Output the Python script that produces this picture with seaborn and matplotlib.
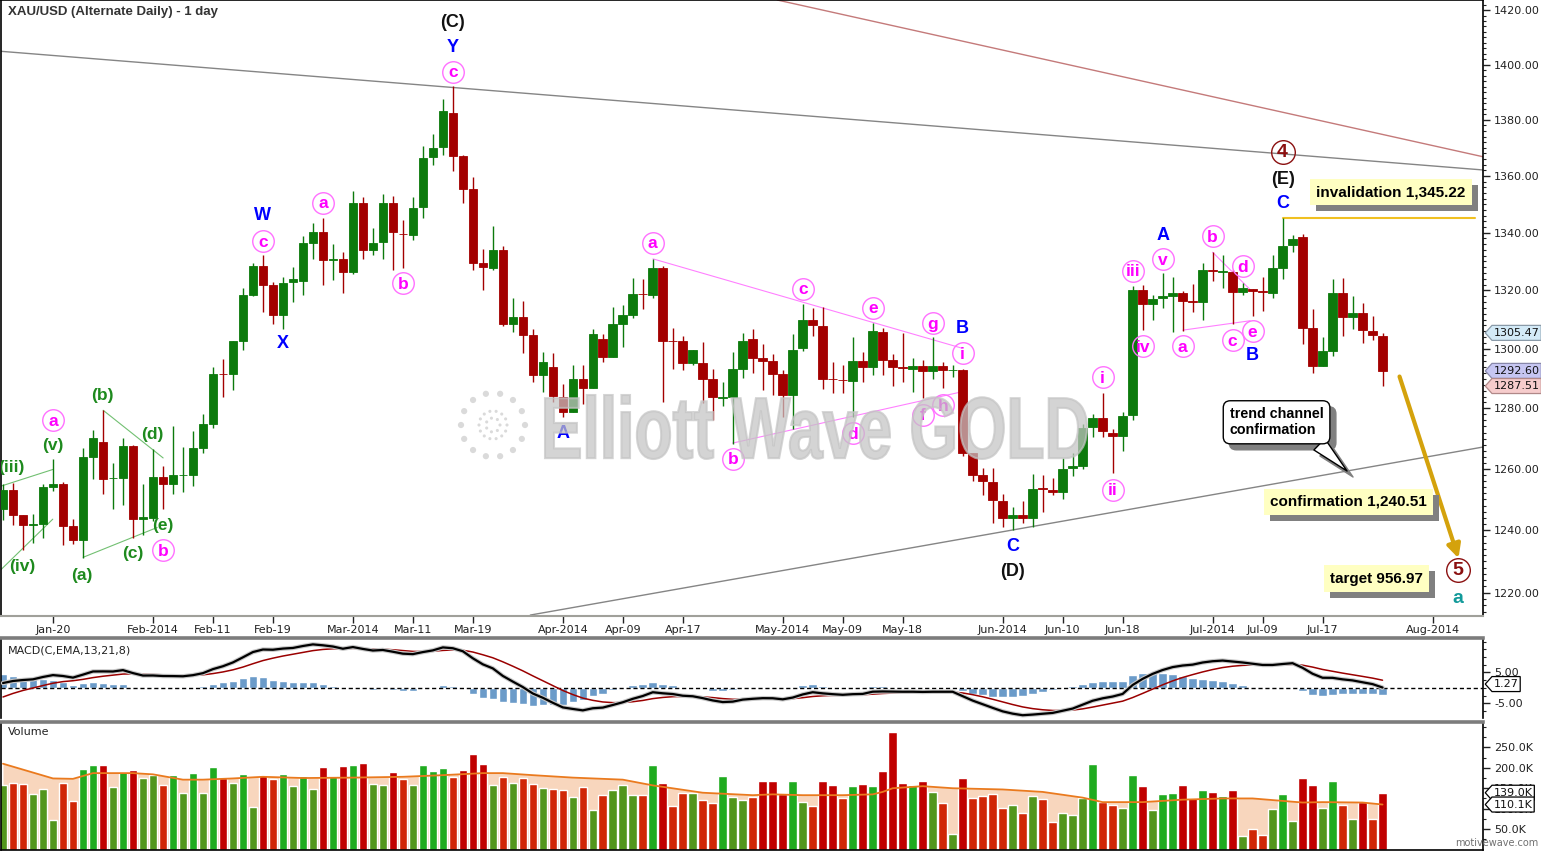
import numpy as np
import pandas as pd
import matplotlib
matplotlib.use("Agg")
import matplotlib.pyplot as plt
import matplotlib.ticker as mticker
import seaborn as sns
from matplotlib.path import Path
from matplotlib.patches import PathPatch
from matplotlib.textpath import TextPath
from matplotlib.font_manager import FontProperties
from matplotlib.transforms import Affine2D, IdentityTransform, ScaledTranslation, blended_transform_factory

W, H = 1541, 851

# daily XAU/USD bars, first bar = 13 Jan 2014
opens = [1247.0, 1253.0, 1245.1, 1241.8, 1242.1, 1254.2, 1255.1, 1241.3, 1236.9, 1264.0,
         1268.9, 1256.9, 1257.1, 1267.7, 1243.8, 1244.0, 1257.4, 1254.9, 1257.9, 1258.1,
         1266.9, 1274.8, 1291.6, 1291.4, 1302.8, 1318.3, 1328.6, 1321.7, 1311.4, 1322.9,
         1323.2, 1336.4, 1340.4, 1330.5, 1330.9, 1326.3, 1350.4, 1334.1, 1336.7, 1350.4,
         1339.7, 1339.3, 1348.9, 1366.6, 1370.1, 1382.4, 1366.9, 1355.4, 1329.3, 1327.6,
         1334.1, 1308.6, 1310.8, 1304.6, 1291.3, 1293.9, 1284.0, 1278.7, 1289.8, 1286.8,
         1303.3, 1297.3, 1308.6, 1311.6, 1318.8, 1318.4, 1327.6, 1302.8, 1302.7, 1295.3,
         1295.3, 1289.8, 1283.5, 1283.7, 1293.2, 1303.3, 1296.9, 1296.0, 1291.5, 1284.5,
         1300.3, 1309.9, 1307.8, 1289.9, 1289.6, 1289.3, 1295.8, 1293.8, 1305.8, 1296.2,
         1293.8, 1293.3, 1294.1, 1292.4, 1294.1, 1292.8, 1292.9, 1265.1, 1257.9, 1255.6,
         1249.4, 1244.0, 1244.8, 1244.0, 1253.6, 1253.0, 1252.4, 1260.3, 1261.1, 1273.7,
         1276.9, 1272.0, 1270.7, 1277.8, 1320.0, 1315.3, 1317.3, 1318.1, 1319.0, 1316.3,
         1315.9, 1326.9, 1326.4, 1326.4, 1319.6, 1320.6, 1319.7, 1319.1, 1327.6, 1335.6,
         1338.4, 1307.2, 1294.4, 1299.2, 1319.0, 1310.8, 1312.2, 1306.1, 1304.4]
highs = [1254.9, 1255.4, 1245.1, 1245.3, 1254.9, 1263.1, 1255.7, 1243.6, 1266.9, 1272.9,
         1279.5, 1262.0, 1270.2, 1268.0, 1255.1, 1266.4, 1260.9, 1274.3, 1267.1, 1272.4,
         1278.0, 1293.8, 1296.6, 1302.8, 1320.9, 1329.5, 1332.1, 1322.9, 1324.7, 1328.2,
         1338.7, 1343.4, 1345.1, 1336.2, 1333.3, 1354.7, 1352.5, 1341.6, 1353.7, 1353.0,
         1344.6, 1352.5, 1370.7, 1375.0, 1387.7, 1392.1, 1367.5, 1359.5, 1334.4, 1342.2,
         1335.3, 1317.3, 1316.4, 1306.9, 1299.0, 1298.6, 1288.1, 1294.7, 1294.5, 1306.9,
         1305.0, 1314.2, 1315.0, 1324.4, 1323.8, 1330.9, 1328.4, 1307.2, 1304.5, 1299.5,
         1302.3, 1293.2, 1289.0, 1298.9, 1305.3, 1306.7, 1301.7, 1298.3, 1293.0, 1305.0,
         1315.5, 1314.0, 1314.2, 1295.6, 1294.7, 1304.0, 1299.0, 1309.0, 1307.1, 1298.3,
         1305.5, 1296.9, 1296.4, 1304.0, 1295.5, 1294.7, 1293.3, 1265.1, 1260.3, 1260.3,
         1251.8, 1247.5, 1249.4, 1258.4, 1258.1, 1257.1, 1263.6, 1265.3, 1274.8, 1278.0,
         1285.1, 1273.1, 1278.7, 1321.5, 1321.7, 1318.3, 1325.9, 1324.7, 1319.8, 1322.1,
         1329.3, 1333.3, 1332.2, 1326.9, 1322.6, 1320.6, 1324.6, 1332.4, 1345.2, 1339.1,
         1339.5, 1313.6, 1304.0, 1324.0, 1324.4, 1318.1, 1315.6, 1311.1, 1305.5]
lows = [1243.4, 1241.6, 1233.7, 1235.8, 1237.4, 1252.7, 1235.3, 1235.5, 1231.2, 1256.8,
        1251.8, 1247.0, 1248.3, 1237.6, 1238.5, 1242.9, 1247.0, 1251.8, 1252.5, 1254.3,
        1265.1, 1273.5, 1284.0, 1286.2, 1299.8, 1318.0, 1312.5, 1308.6, 1306.9, 1315.9,
        1318.3, 1330.7, 1321.7, 1323.6, 1319.2, 1325.5, 1330.7, 1332.2, 1330.7, 1327.2,
        1327.6, 1337.4, 1345.1, 1363.9, 1367.5, 1361.6, 1350.4, 1327.2, 1320.1, 1326.9,
        1307.7, 1305.6, 1298.6, 1289.0, 1285.4, 1282.3, 1277.1, 1278.7, 1281.4, 1286.8,
        1295.6, 1297.3, 1300.6, 1310.6, 1313.6, 1317.5, 1282.0, 1293.3, 1293.0, 1294.7,
        1281.7, 1276.2, 1280.9, 1268.3, 1290.1, 1291.9, 1286.2, 1284.5, 1277.3, 1273.2,
        1299.4, 1304.5, 1286.6, 1285.1, 1285.1, 1277.1, 1289.0, 1291.3, 1291.1, 1287.6,
        1289.0, 1285.6, 1283.4, 1289.9, 1286.8, 1290.7, 1264.2, 1256.0, 1251.4, 1242.3,
        1240.9, 1240.1, 1242.5, 1240.9, 1245.8, 1251.4, 1250.0, 1257.6, 1259.8, 1270.5,
        1270.4, 1258.7, 1266.0, 1276.0, 1306.3, 1309.7, 1313.8, 1305.8, 1306.0, 1312.7,
        1310.0, 1323.2, 1320.7, 1308.4, 1318.4, 1311.2, 1313.0, 1317.3, 1324.1, 1333.3,
        1301.8, 1291.9, 1294.4, 1297.7, 1304.5, 1306.9, 1302.0, 1303.1, 1287.5]
closes = [1253.2, 1245.1, 1241.8, 1242.0, 1254.1, 1255.1, 1241.5, 1236.9, 1264.0, 1270.2,
          1256.8, 1257.1, 1267.5, 1243.8, 1244.2, 1257.4, 1254.9, 1257.9, 1258.0, 1266.9,
          1274.8, 1291.5, 1291.4, 1302.8, 1318.3, 1328.6, 1321.8, 1311.4, 1322.6, 1324.0,
          1336.4, 1340.4, 1330.5, 1330.7, 1326.3, 1350.4, 1334.1, 1336.4, 1350.4, 1340.1,
          1339.5, 1348.7, 1366.3, 1369.9, 1383.2, 1366.9, 1355.4, 1329.3, 1328.2, 1334.1,
          1308.6, 1310.8, 1304.8, 1291.3, 1295.6, 1284.3, 1278.7, 1289.8, 1286.8, 1305.0,
          1297.3, 1308.6, 1311.6, 1318.7, 1318.6, 1327.6, 1302.7, 1302.6, 1295.3, 1299.5,
          1289.8, 1283.7, 1283.8, 1293.2, 1302.6, 1296.9, 1296.0, 1291.6, 1284.5, 1299.7,
          1309.9, 1308.0, 1289.9, 1289.8, 1289.4, 1295.8, 1293.8, 1306.0, 1296.4, 1293.8,
          1293.6, 1294.1, 1292.4, 1294.1, 1292.8, 1292.9, 1265.1, 1258.1, 1256.0, 1249.8,
          1244.0, 1244.8, 1244.0, 1253.5, 1253.4, 1252.4, 1260.0, 1260.9, 1273.5, 1276.9,
          1272.4, 1270.7, 1277.6, 1320.0, 1315.3, 1317.2, 1318.1, 1319.0, 1316.4, 1316.1,
          1326.9, 1326.7, 1326.6, 1319.6, 1320.7, 1319.8, 1319.6, 1327.6, 1335.5, 1337.9,
          1307.2, 1294.4, 1299.2, 1319.0, 1311.0, 1312.2, 1306.3, 1304.6, 1292.6]

# volume in thousands
volumes = [157, 164, 161, 137, 149, 72, 164, 118, 196, 206, 206, 153, 190, 194, 174, 182, 157, 183, 139, 188,
           139, 202, 175, 164, 184, 104, 182, 172, 184, 155, 180, 147, 202, 180, 205, 206, 212, 160, 157, 189,
           172, 157, 206, 192, 200, 178, 194, 233, 210, 157, 178, 162, 176, 161, 150, 147, 145, 129, 153, 96,
           133, 145, 158, 133, 133, 206, 164, 106, 139, 139, 121, 115, 180, 129, 121, 129, 167, 167, 137, 168,
           116, 106, 167, 157, 127, 155, 161, 155, 192, 288, 163, 157, 167, 141, 115, 38, 175, 126, 131, 137,
           102, 109, 90, 131, 123, 67, 90, 85, 127, 209, 116, 109, 102, 182, 155, 96, 136, 139, 157, 126,
           145, 142, 132, 145, 32, 51, 35, 99, 135, 70, 175, 157, 102, 167, 110, 75, 117, 75, 139]

# volume moving average, read at a few bars
vol_ma_bars = [0, 5, 7, 9, 13, 15, 18, 20, 23, 26, 30, 35, 40, 44, 48, 50, 53, 57, 62, 65, 70, 75,
               77, 80, 84, 87, 88, 89, 92, 95, 100, 104, 108, 110, 114, 118, 122, 125, 128, 130, 132, 136, 138]
vol_ma_vals = [210, 174, 173, 187, 187, 184, 171, 171, 174, 178, 175, 176, 178, 182, 187, 187, 182, 176, 171, 157, 139, 133,
               135, 133, 133, 135, 141, 150, 155, 150, 147, 141, 127, 116, 116, 122, 125, 125, 119, 115, 116, 115, 110.1]

# MACD(13,21,8) averages at the first bar, estimated from the panel
fast_seed, slow_seed, signal_seed = 1229.6, 1228.0, -2.9

tick_dates = ["2014-01-20", "2014-02-01", "2014-02-11", "2014-02-19", "2014-03-01", "2014-03-11", "2014-03-19",
              "2014-04-01", "2014-04-09", "2014-04-17", "2014-05-01", "2014-05-09", "2014-05-18", "2014-06-01",
              "2014-06-10", "2014-06-18", "2014-07-01", "2014-07-09", "2014-07-17", "2014-08-01"]
tick_labels = ["Jan-20", "Feb-2014", "Feb-11", "Feb-19", "Mar-2014", "Mar-11", "Mar-19", "Apr-2014", "Apr-09",
               "Apr-17", "May-2014", "May-09", "May-18", "Jun-2014", "Jun-10", "Jun-18", "Jul-2014", "Jul-09",
               "Jul-17", "Aug-2014"]

# wave labels: (bar, price, text)
black_labels = [(45, 1415.6, "(C)"), (101, 1226.7, "(D)"), (128, 1358.8, "(E)")]
blue_labels = [(45, 1406.3, "Y"), (26, 1346.0, "W"), (28, 1302.0, "X"), (56, 1271.8, "A"), (96, 1306.8, "B"),
               (101, 1234.7, "C"), (116, 1339.1, "A"), (125, 1297.9, "B"), (128, 1350.4, "C")]
green_labels = [(0.8, 1260.3, "(iii)"), (1.9, 1228.3, "(iv)"), (5, 1267.7, "(v)"), (7.9, 1225.6, "(a)"),
                (9.9, 1284.5, "(b)"), (13, 1232.6, "(c)"), (14.9, 1271.2, "(d)"), (16, 1241.7, "(e)")]
circled_labels = [(45, 1397.5, "c"), (26, 1337.0, "c"), (32, 1350.4, "a"), (40, 1322.5, "b"), (5, 1276.0, "a"),
                  (16, 1233.6, "b"), (65, 1336.4, "a"), (73, 1263.3, "b"), (80, 1320.6, "c"), (85, 1271.8, "d"),
                  (87, 1314.0, "e"), (92, 1277.8, "f"), (93, 1308.7, "g"), (94, 1281.1, "h"), (96, 1298.6, "i"),
                  (110, 1290.4, "i"), (111, 1253.2, "ii"), (113, 1326.7, "iii"), (114, 1300.9, "iv"),
                  (116, 1330.7, "v"), (118, 1300.9, "a"), (121, 1338.8, "b"), (123, 1302.9, "c"),
                  (124, 1328.3, "d"), (125, 1306.0, "e")]
primary_labels = [(128, 1368.4, "4"), (145.5, 1227.2, "5")]

# drawn lines: (start, end, colour)
chart_lines = [
    ((-0.25, 1404.9), (148.05, 1362.1), "#858585"),
    ((52.75, 1212.9), (148.05, 1267.2), "#858585"),
    ((77.45, 1423.8), (148.05, 1366.8), "#c47a7a"),
    ((-0.25, 1254.3), (4.98, 1259.8), "#72c072"),
    ((-0.25, 1227.2), (4.98, 1243.6), "#72c072"),
    ((10.02, 1279.4), (16.02, 1263.6), "#72c072"),
    ((8.02, 1231.3), (15.42, 1240.9), "#72c072"),
    ((65.02, 1330.9), (95.9, 1300.3), "#ff80ff"),
    ((72.98, 1268.5), (96.08, 1285.7), "#ff80ff"),
    ((118.02, 1306.4), (124.75, 1309.6), "#ff80ff"),
    ((121.0, 1333.2), (124.75, 1320.3), "#ff80ff"),
]

sns.set_theme(style="white")
plt.rcParams["font.family"] = ["DejaVu Sans"]
LAB = "Liberation Sans"

idx = np.arange(len(closes))
o, hi, lo, c = map(np.array, (opens, highs, lows, closes))
up = c >= o

bar_dates = pd.bdate_range("2014-01-13", "2014-08-15")
bar_dates = bar_dates[bar_dates != pd.Timestamp("2014-07-04")]
tick_pos = bar_dates.searchsorted(pd.to_datetime(tick_dates))

fig = plt.figure(figsize=(W / 100, H / 100), dpi=100)
fig.patch.set_facecolor("white")
left, width = 0.5 / W, 1482.5 / W
axp = fig.add_axes([left, (H - 616) / H, width, 616 / H])
axm = fig.add_axes([left, (H - 718) / H, width, 80 / H], sharex=axp)
axv = fig.add_axes([left, 1.5 / H, width, 128 / H], sharex=axp)
XLIM = (-0.25, 148.05)
PLIM = (1212.6, 1423.8)

# ---------------- price panel ----------------
cols = np.where(up, "#0c7a0c", "#a30000")
axp.vlines(idx, lo, hi, colors=cols, lw=1.0, zorder=3)
body_lo = np.minimum(o, c)
body_h = np.maximum(np.abs(c - o), 0.15)
axp.bar(idx, body_h, bottom=body_lo, width=0.86, color=cols, edgecolor=cols, linewidth=0.6, zorder=4)

for (x0, y0), (x1, y1), col in chart_lines:
    axp.plot([x0, x1], [y0, y1], color=col, lw=1.0 if col in ("#858585", "#c47a7a") else 0.8, zorder=2)
axp.plot([128, 147.25], [1345.22, 1345.22], color="#f0c020", lw=1.5, zorder=2)

for x, y, t in black_labels:
    axp.text(x, y, t, ha="center", va="center", fontsize=13, fontweight="bold", family=LAB, color="#111111", zorder=6)
for x, y, t in blue_labels:
    axp.text(x, y, t, ha="center", va="center", fontsize=13, fontweight="bold", family=LAB, color="#0000ff", zorder=6)
for x, y, t in green_labels:
    axp.text(x, y, t, ha="center", va="center", fontsize=12.5, fontweight="bold", family=LAB, color="#1e8a1e",
             zorder=6, clip_on=True)
for x, y, t in circled_labels:
    axp.plot([x], [y], marker="o", ms=15.5, mfc="none", mec="#ff70ff", mew=1.0, zorder=6)
    axp.text(x, y - 0.3, t, ha="center", va="center", fontsize=12.5, fontweight="bold", family=LAB, color="#ff00ff", zorder=6)
for x, y, t in primary_labels:
    axp.plot([x], [y], marker="o", ms=17, mfc="none", mec="#8b1010", mew=1.0, zorder=6)
    axp.text(x, y, t, ha="center", va="center", fontsize=14, fontweight="bold", family=LAB, color="#8b1010", zorder=6)
axp.text(145.5, 1218.3, "a", ha="center", va="center", fontsize=14, fontweight="bold", family=LAB, color="#129a9a", zorder=6)

# forecast arrow
axp.annotate("", xy=(145.6, 1231.0), xytext=(139.7, 1290.7),
             arrowprops=dict(arrowstyle="-|>", color="#d4a20c", lw=3, mutation_scale=20, shrinkA=0, shrinkB=0), zorder=5)

shadow = axp.transData + ScaledTranslation(6 / 100, -6 / 100, fig.dpi_scale_trans)
yellow_notes = [(131.35, 1354.2, "invalidation 1,345.22"), (126.75, 1249.2, "confirmation 1,240.51"),
                (132.75, 1224.5, "target 956.97")]
for x, y, t in yellow_notes:
    axp.text(x, y, t, transform=shadow, ha="left", va="center", fontsize=11, fontweight="bold", family=LAB,
             color="#808080", bbox=dict(boxstyle="square,pad=0.4", fc="#808080", ec="none"), zorder=7)
    axp.text(x, y, t, ha="left", va="center", fontsize=11, fontweight="bold", family=LAB, color="black",
             bbox=dict(boxstyle="square,pad=0.4", fc="#ffffc2", ec="none"), zorder=8)

for tr, tc, fc, ec in [(shadow, "#808080", "#808080", "#808080"), (axp.transData, "black", "white", "black")]:
    axp.annotate("trend channel\nconfirmation", xy=(134.45, 1259.3), xycoords=tr, xytext=(127.4, 1275.4),
                 textcoords=tr, ha="center", va="center", multialignment="left", fontsize=10.3, fontweight="bold",
                 family=LAB, color=tc, linespacing=1.2,
                 bbox=dict(boxstyle="round,pad=0.45,rounding_size=0.5", fc=fc, ec=ec, lw=1),
                 arrowprops=dict(arrowstyle="wedge,tail_width=1.1", fc=fc, ec=ec, lw=1, relpos=(0.88, 0.0),
                                 shrinkA=0, shrinkB=0), zorder=8 if tc == "black" else 7)

# logo dots (in pixels) next to the watermark
ang = np.linspace(0, 2 * np.pi, 15)[:-1]
ring_x = np.concatenate([493 + 32 * np.cos(ang), 493 + 14 * np.cos(ang), 493 + 7 * np.cos(ang[::2])])
ring_y = np.concatenate([H - 425 + 32 * np.sin(ang), H - 425 + 14 * np.sin(ang), H - 425 + 7 * np.sin(ang[::2])])
axp.scatter(ring_x, ring_y, s=[20] * 14 + [5] * 14 + [5] * 7, c="#dadada", linewidths=0,
            transform=IdentityTransform(), zorder=5)

axp.set_yscale("log")
axp.set_ylim(*PLIM)
axp.set_xlim(*XLIM)
axp.yaxis.tick_right()
axp.yaxis.set_major_locator(mticker.FixedLocator(list(range(1220, 1421, 20))))
axp.yaxis.set_major_formatter(mticker.FuncFormatter(lambda v, p: f"{v:.2f}"))
axp.yaxis.set_minor_locator(mticker.FixedLocator([v for v in range(1214, 1424, 2) if v % 20]))
axp.yaxis.set_minor_formatter(mticker.NullFormatter())
axp.set_xticks(tick_pos)
axp.set_xticklabels(tick_labels)
axp.tick_params(axis="x", length=5, width=1, pad=1.5, labelsize=8, colors="#222222", bottom=True)
axp.tick_params(axis="y", which="major", length=5, width=1, pad=3, labelsize=8, colors="#222222", right=True)
axp.tick_params(axis="y", which="minor", length=2.5, width=0.8, right=True, colors="#222222")
for s in ("left", "top", "right"):
    axp.spines[s].set_color("black")
    axp.spines[s].set_linewidth(1.2)
axp.spines["bottom"].set_color("#a0a09a")
axp.spines["bottom"].set_linewidth(1.5)

# watermark
wm = TextPath((0, 0), "Elliott Wave GOLD", size=100, prop=FontProperties(family=LAB, weight="bold"))
ext = wm.get_extents()
wm_tr = Affine2D().translate(-ext.x0, -ext.y0).scale(542 / ext.width, 64 / ext.height).translate(545, H - 459)
fig.add_artist(PathPatch(wm, transform=wm_tr, fc="#c4c4c4", ec="#c4c4c4", lw=1.5, alpha=0.72, zorder=5))

fig.text(8 / W, 1 - 12.5 / H, "XAU/USD (Alternate Daily) - 1 day", ha="left", va="center", fontsize=9.5,
         fontweight="bold", family=LAB, color="#333333")


def tag_shape(x0, y0, width, height, mutation_size):
    pad = 0.3 * mutation_size
    x0 -= pad * 0.6
    y0 -= pad * 0.75
    width += pad * 1.0
    height += pad * 1.5
    tip = height * 0.45
    verts = [(x0 - tip, y0 + height / 2), (x0, y0), (x0 + width, y0), (x0 + width, y0 + height),
             (x0, y0 + height), (x0 - tip, y0 + height / 2)]
    return Path(verts, [Path.MOVETO] + [Path.LINETO] * 4 + [Path.CLOSEPOLY])


def right_tag(ax, value, text, fc, ec):
    tr = blended_transform_factory(ax.transAxes, ax.transData) + ScaledTranslation(11 / 100, 0, fig.dpi_scale_trans)
    ax.text(1.0, value, text, transform=tr, ha="left", va="center", fontsize=8, color="#111111",
            bbox=dict(boxstyle=tag_shape, fc=fc, ec=ec, lw=0.9), clip_on=False, zorder=10)


right_tag(axp, 1305.47, "1305.47", "#d3eaf7", "#8a9aa8")
right_tag(axp, 1292.60, "1292.60", "#c6c6f2", "#8888aa")
right_tag(axp, 1287.51, "1287.51", "#f6cccc", "#b08888")

# ---------------- MACD panel ----------------
fast = pd.Series([fast_seed] + closes[1:]).ewm(span=13, adjust=False).mean()
slow = pd.Series([slow_seed] + closes[1:]).ewm(span=21, adjust=False).mean()
macd = fast - slow
signal = pd.Series([signal_seed] + macd.tolist()[1:]).ewm(span=8, adjust=False).mean()
hist = macd - signal

sns.barplot(x=idx, y=hist.values, native_scale=True, color="#6b9bc9", saturation=1, width=0.86,
            errorbar=None, ax=axm, zorder=2)
axm.axhline(0, color="black", lw=1, ls=(0, (3, 2)), zorder=3)
sns.lineplot(x=idx, y=signal.values, color="#9a0000", lw=1.1, ax=axm, estimator=None, zorder=4)
sns.lineplot(x=idx, y=macd.values, color="#c8c8c8", lw=3.2, ax=axm, estimator=None, zorder=4)
sns.lineplot(x=idx, y=macd.values, color="black", lw=1.6, ax=axm, estimator=None, zorder=5)
axm.set_ylim(-9.68, 16.13)
axm.yaxis.tick_right()
axm.yaxis.set_major_locator(mticker.FixedLocator([-5, 5]))
axm.yaxis.set_major_formatter(mticker.FuncFormatter(lambda v, p: f"{v:.2f}"))
axm.yaxis.set_minor_locator(mticker.FixedLocator([-7.5, -2.5, 0, 2.5, 7.5, 10, 12.5, 15]))
axm.tick_params(axis="y", which="major", length=5, width=1, pad=3, labelsize=8, colors="#222222", right=True)
axm.tick_params(axis="y", which="minor", length=2.5, width=0.8, right=True, colors="#222222")
axm.tick_params(axis="x", bottom=False, labelbottom=False)
axm.text(7 / 1482.5, 0.84, "MACD(C,EMA,13,21,8)", transform=axm.transAxes, ha="left", va="center",
         fontsize=8, color="#222222")
right_tag(axm, 1.27, "1.27", "white", "black")

# ---------------- volume panel ----------------
ma_at_bar = np.interp(idx, vol_ma_bars, vol_ma_vals)
kinds = np.where(up, np.where(np.array(volumes) > ma_at_bar, "up_hi", "up_lo"),
                 np.where(np.array(volumes) > ma_at_bar, "dn_hi", "dn_lo"))
vol_df = pd.DataFrame({"bar": idx, "vol": volumes, "kind": kinds})
vol_palette = {"up_hi": "#1fab1f", "up_lo": "#52961c", "dn_hi": "#c00000", "dn_lo": "#d02606"}

axv.fill_between(vol_ma_bars, vol_ma_vals, 0, color="#f8d6bd", lw=0, zorder=1)
sns.barplot(data=vol_df, x="bar", y="vol", hue="kind", palette=vol_palette, native_scale=True, dodge=False,
            width=0.86, saturation=1, errorbar=None, legend=False, ax=axv, zorder=2)
sns.lineplot(x=vol_ma_bars, y=vol_ma_vals, color="#ea7a1e", lw=1.3, ax=axv, estimator=None, zorder=3)
axv.set_ylim(0, 313.4)
axv.yaxis.tick_right()
axv.yaxis.set_major_locator(mticker.FixedLocator([50, 100, 150, 200, 250]))
axv.yaxis.set_major_formatter(mticker.FuncFormatter(lambda v, p: f"{v:.1f}K"))
axv.yaxis.set_minor_locator(mticker.FixedLocator([25, 75, 125, 175, 225, 275, 300]))
axv.tick_params(axis="y", which="major", length=5, width=1, pad=3, labelsize=8, colors="#222222", right=True)
axv.tick_params(axis="y", which="minor", length=2.5, width=0.8, right=True, colors="#222222")
axv.tick_params(axis="x", bottom=False, labelbottom=False)
axv.text(7 / 1482.5, 0.915, "Volume", transform=axv.transAxes, ha="left", va="center", fontsize=8, color="#222222")
right_tag(axv, 139.0, "139.0K", "white", "black")
right_tag(axv, 110.1, "110.1K", "white", "black")

for ax in (axm, axv):
    ax.set_xlabel("")
    ax.set_ylabel("")
    ax.set_facecolor("white")
    ax.spines["top"].set_color("#7c7c7c")
    ax.spines["top"].set_linewidth(2.6)
    for s in ("left", "right"):
        ax.spines[s].set_color("black")
        ax.spines[s].set_linewidth(1.2)
axm.spines["bottom"].set_visible(False)
axv.spines["bottom"].set_color("black")
axv.spines["bottom"].set_linewidth(1.2)
axp.set_xlim(*XLIM)
axp.set_ylim(*PLIM)

fig.text(1538 / W, 1 - 843 / H, "motivewave.com", ha="right", va="center", fontsize=7, color="#707070")

fig.savefig("out.png", dpi=100, facecolor="white")
